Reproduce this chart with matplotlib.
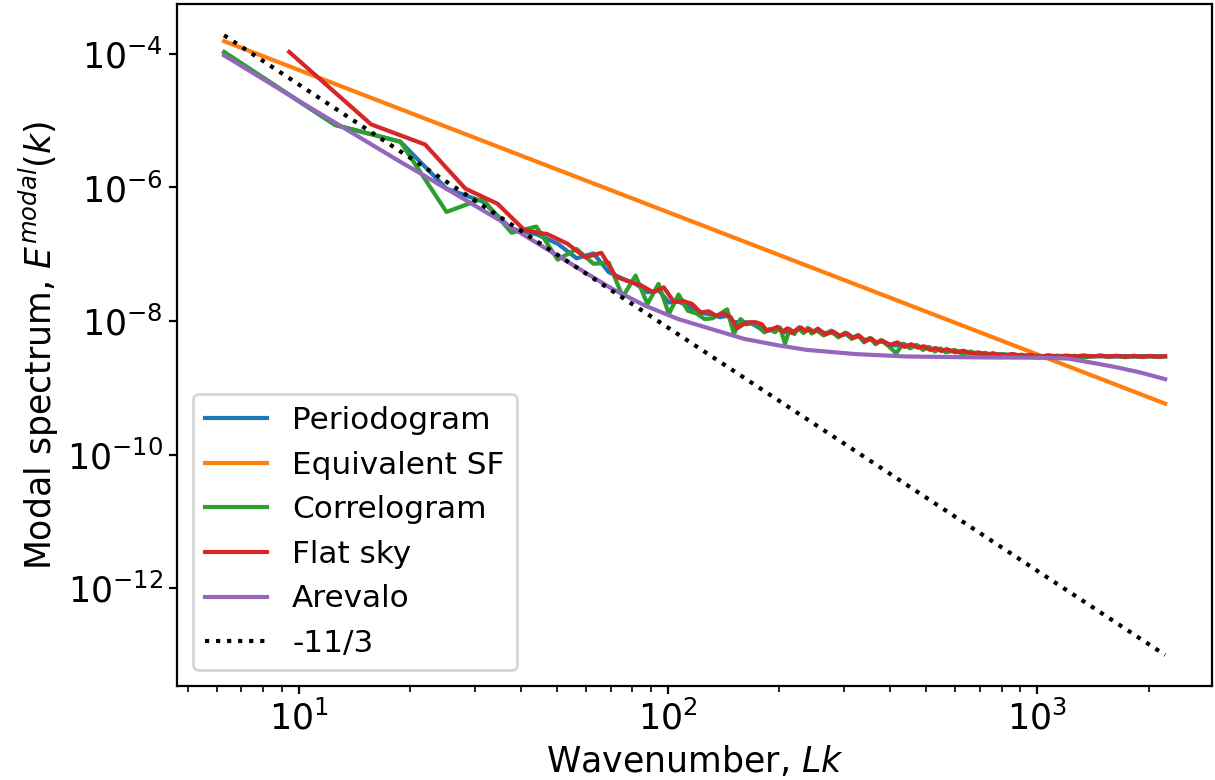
import numpy as np
import matplotlib.pyplot as plt

# mode numbers; wavenumber Lk = 2*pi*n
n_modes = [1, 2, 3, 4, 5, 6, 7, 8, 9, 10, 11, 12, 13, 14, 15, 16, 17, 18, 19, 20,
           21, 22, 23, 24, 25, 26, 27, 28, 29, 30,
           31, 32, 33, 34, 35, 36, 37, 38, 39, 40, 42, 44, 46, 48, 50, 52, 54, 56, 58, 60,
           63, 66, 69, 72, 75, 78, 81, 84, 87, 90, 95, 100, 105, 110, 115, 120,
           128, 136, 144, 152, 160, 170, 180, 190, 200, 212, 224, 236, 248, 260,
           275, 290, 305, 320, 336, 353]

# flat sky estimate sits on the half-integer modes
n_flat = [1.5, 2.5, 3.5, 4.5, 5.5, 6.5, 7.5, 8.5, 9.5, 10.5, 11.5, 12.5, 13.5, 14.5, 15.5,
          16.5, 17.5, 18.5, 19.5, 20.5, 21.5, 22.5, 23.5, 24.5, 25.5, 26.5, 27.5, 28.5, 29.5, 30.5,
          31.5, 32.5, 33.5, 34.5, 35.5, 36.5, 37.5, 38.5, 39.5, 40.5, 42.5, 44.5, 46.5, 48.5,
          50.5, 52.5, 54.5, 56.5, 58.5, 60.5, 63.5, 66.5, 69.5, 72.5, 75.5, 78.5, 81.5, 84.5,
          87.5, 90.5, 95.5, 100.5, 105.5, 110.5, 115.5, 120.5, 128.5, 136.5, 144.5, 152.5,
          160.5, 170.5, 180.5, 190.5, 200.5, 212.5, 224.5, 236.5, 248.5, 260.5, 275.5, 290.5,
          305.5, 320.5, 336.5, 352.5]

periodogram = [1.05e-4, 8.6e-6, 4.85e-6, 9.6e-7, 6.2e-7, 2.4e-7, 2.0e-7, 1.44e-7, 8.7e-8, 1.03e-7,
               5.4e-8, 4.3e-8, 3.6e-8, 2.7e-8, 2.9e-8, 1.9e-8, 1.95e-8, 1.7e-8, 1.35e-8, 1.3e-8,
               1.25e-8, 1.14e-8, 1.2e-8, 9.6e-9, 9.7e-9, 9.6e-9, 9.0e-9, 8.0e-9, 6.9e-9, 7.3e-9,
               7.2e-9, 7.6e-9, 6.8e-9, 7.3e-9, 7.0e-9, 7.5e-9, 6.9e-9, 7.4e-9, 7.0e-9, 7.2e-9,
               6.6e-9, 6.8e-9, 6.0e-9, 6.4e-9, 5.7e-9, 6.0e-9, 5.2e-9, 5.4e-9, 4.8e-9, 5.0e-9,
               4.5e-9, 4.3e-9, 4.5e-9, 4.1e-9, 4.3e-9, 3.9e-9, 4.0e-9, 3.7e-9, 3.8e-9, 3.5e-9,
               3.6e-9, 3.35e-9, 3.45e-9, 3.2e-9, 3.3e-9, 3.1e-9, 3.2e-9, 3.05e-9, 3.1e-9, 2.9e-9,
               2.85e-9, 2.95e-9, 3.0e-9, 2.9e-9, 3.0e-9, 2.92e-9, 3.0e-9, 2.95e-9, 3.0e-9, 2.93e-9,
               3.0e-9, 2.92e-9, 3.0e-9, 2.94e-9, 2.98e-9, 2.95e-9]

correlogram = [1.07e-4, 8.6e-6, 4.85e-6, 4.3e-7, 6.8e-7, 2.1e-7, 2.6e-7, 8.3e-8, 1.2e-7, 7.2e-8,
               7.5e-8, 2.3e-8, 4.8e-8, 1.8e-8, 3.6e-8, 1.28e-8, 2.5e-8, 1.43e-8, 1.3e-8, 1.07e-8,
               1.1e-8, 1.28e-8, 1.5e-8, 6.4e-9, 1.07e-8, 8.9e-9, 9.5e-9, 8.6e-9, 6.8e-9, 7.6e-9,
               6.8e-9, 8.0e-9, 4.6e-9, 7.6e-9, 6.4e-9, 8.1e-9, 6.6e-9, 7.9e-9, 6.5e-9, 7.4e-9,
               6.1e-9, 7.2e-9, 5.7e-9, 6.7e-9, 5.4e-9, 6.2e-9, 4.8e-9, 5.6e-9, 4.5e-9, 5.2e-9,
               4.2e-9, 3.3e-9, 4.6e-9, 3.9e-9, 4.4e-9, 3.7e-9, 4.1e-9, 3.5e-9, 3.9e-9, 3.4e-9,
               3.7e-9, 3.2e-9, 3.5e-9, 3.1e-9, 3.35e-9, 3.0e-9, 3.2e-9, 2.95e-9, 3.15e-9, 2.9e-9,
               3.05e-9, 2.85e-9, 3.05e-9, 2.88e-9, 3.02e-9, 2.85e-9, 2.95e-9, 3.05e-9, 2.9e-9, 3.0e-9,
               2.88e-9, 3.0e-9, 2.9e-9, 3.0e-9, 2.9e-9, 2.97e-9]

flat_sky = [1.07e-4, 8.8e-6, 4.4e-6, 9.6e-7, 5.7e-7, 2.3e-7, 2.0e-7, 1.44e-7, 9.0e-8, 1.05e-7,
            4.6e-8, 3.9e-8, 3.4e-8, 2.7e-8, 3.2e-8, 1.94e-8, 2.0e-8, 1.8e-8, 1.35e-8, 1.4e-8,
            1.2e-8, 1.3e-8, 1.15e-8, 7.8e-9, 9.0e-9, 9.6e-9, 9.6e-9, 9.0e-9, 7.2e-9, 7.6e-9,
            8.2e-9, 6.9e-9, 7.8e-9, 6.6e-9, 7.5e-9, 8.0e-9, 7.0e-9, 7.6e-9, 6.8e-9, 7.7e-9,
            6.3e-9, 7.0e-9, 6.0e-9, 6.6e-9, 5.6e-9, 6.0e-9, 5.0e-9, 5.5e-9, 4.7e-9, 5.1e-9,
            4.4e-9, 4.8e-9, 4.1e-9, 4.5e-9, 4.0e-9, 4.2e-9, 3.7e-9, 3.95e-9, 3.55e-9, 3.8e-9,
            3.4e-9, 3.6e-9, 3.25e-9, 3.4e-9, 3.1e-9, 3.3e-9, 3.05e-9, 3.22e-9, 2.98e-9, 3.12e-9,
            2.92e-9, 3.08e-9, 2.93e-9, 3.05e-9, 2.94e-9, 3.06e-9, 2.95e-9, 3.04e-9, 2.93e-9, 3.03e-9,
            2.92e-9, 3.02e-9, 2.91e-9, 3.01e-9, 2.92e-9, 2.98e-9]

# model curve (Arevalo) sampled in wavenumber
k_arevalo = [6.28, 10.2, 18.9, 20.7, 35.1, 57.5, 70.6, 86.7, 106.6, 131, 161, 197.6, 237.7,
             323.6, 440.6, 721.5, 1000, 1208, 1394, 1610, 1900, 2218]
arevalo = [9.5e-5, 1.86e-5, 2.4e-6, 1.8e-6, 3.2e-7, 6.05e-8, 3.03e-8, 1.7e-8, 1.07e-8, 7.6e-9,
           5.4e-9, 4.35e-9, 3.7e-9, 3.2e-9, 2.95e-9, 2.85e-9, 2.83e-9, 2.75e-9, 2.4e-9, 2.07e-9,
           1.7e-9, 1.35e-9]

# power laws: equivalent structure function and the -11/3 reference slope
k_ends = [6.28, 2218]
equiv_sf = [1.55e-4, 5.8e-10]
kolmogorov = [1.9e-4, 1.0e-13]

k = 2 * np.pi * np.array(n_modes)
k_flat = 2 * np.pi * np.array(n_flat)

fig = plt.figure(figsize=(6.075, 3.9), dpi=200)
ax = fig.add_axes([0.1457, 0.1205, 0.852, 0.874])

ax.loglog(k, periodogram, label="Periodogram")
ax.loglog(k_ends, equiv_sf, label="Equivalent SF")
ax.loglog(k, correlogram, label="Correlogram")
ax.loglog(k_flat, flat_sky, label="Flat sky")
ax.loglog(k_arevalo, arevalo, label="Arevalo")
ax.loglog(k_ends, kolmogorov, "k:", label="-11/3")

ax.tick_params(axis="both", which="major", labelsize=12.5, length=3, pad=2)
ax.tick_params(axis="both", which="minor", length=2, pad=2)
ax.set_xlabel("Wavenumber, $Lk$", fontsize=12.5, labelpad=3)
ax.set_ylabel("Modal spectrum, $E^{modal}(k)$", fontsize=12.5, labelpad=2)
ax.legend(loc="lower left", fontsize=11.2)

fig.savefig("out.png", dpi=200)
